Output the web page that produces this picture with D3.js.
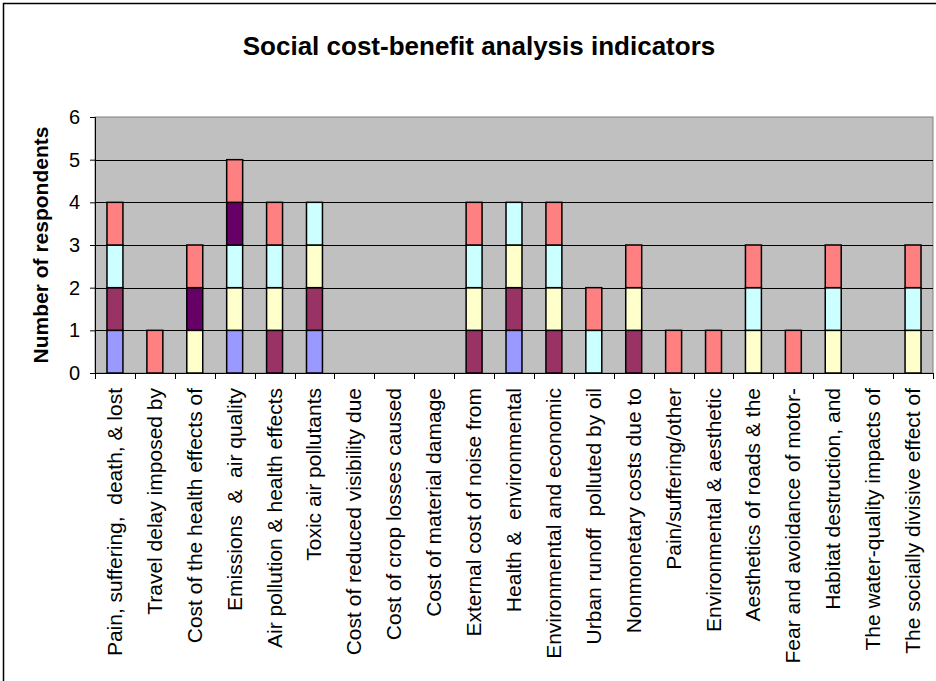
<!DOCTYPE html>
<html>
<head>
<meta charset="utf-8">
<script src="https://cdn.jsdelivr.net/npm/d3@7"></script>
<style>
  body { margin: 0; background: #fff; }
  text { font-family: Arial, "Liberation Sans", sans-serif; }
</style>
</head>
<body>
<div id="chart"></div>
<script>
// categories (x axis)
var categories = [
  "Pain, suffering,  death, & lost",
  "Travel delay imposed by",
  "Cost of the health effects of",
  "Emissions  &  air quality",
  "Air pollution & health effects",
  "Toxic air pollutants",
  "Cost of reduced visibility due",
  "Cost of crop losses caused",
  "Cost of material damage",
  "External cost of noise from",
  "Health &  environmental",
  "Environmental and economic",
  "Urban runoff  polluted by oil",
  "Nonmonetary costs due to",
  "Pain/suffering/other",
  "Environmental & aesthetic",
  "Aesthetics of roads & the",
  "Fear and avoidance of motor-",
  "Habitat destruction, and",
  "The water-quality impacts of",
  "The socially divisive effect of"
];

// six stacked series, bottom to top
var seriesNames = ["s1", "s2", "s3", "s4", "s5", "s6"];
var s1 = [1,0,0,1,0,1,0,0,0,0,1,0,0,0,0,0,0,0,0,0,0];
var s2 = [1,0,0,0,1,1,0,0,0,1,1,1,0,1,0,0,0,0,0,0,0];
var s3 = [0,0,1,1,1,1,0,0,0,1,1,1,0,1,0,0,1,0,1,0,1];
var s4 = [1,0,0,1,1,1,0,0,0,1,1,1,1,0,0,0,1,0,1,0,1];
var s5 = [0,0,1,1,0,0,0,0,0,0,0,0,0,0,0,0,0,0,0,0,0];
var s6 = [1,1,1,1,1,0,0,0,0,1,0,1,1,1,1,1,1,1,1,0,1];
var seriesColors = ["#9999FF", "#993366", "#FFFFCC", "#CCFFFF", "#660066", "#FF8080"];

var yTicks = [0, 1, 2, 3, 4, 5, 6];

var svgWidth = 936;
var svgHeight = 681;
var margin = { top: 117, right: 3, bottom: 308, left: 95 };
var width = svgWidth - margin.left - margin.right;
var height = svgHeight - margin.top - margin.bottom;

var svg = d3.select("#chart")
  .append("svg")
  .attr("width", svgWidth)
  .attr("height", svgHeight);

// outer chart frame
svg.append("rect")
  .attr("x", 3.5).attr("y", 3.5)
  .attr("width", svgWidth + 10).attr("height", svgHeight + 10)
  .attr("fill", "#fff")
  .attr("stroke", "#000")
  .attr("stroke-width", 1.5);

svg.append("text")
  .attr("x", 479).attr("y", 55)
  .attr("text-anchor", "middle")
  .attr("font-size", 26)
  .attr("font-weight", "bold")
  .text("Social cost-benefit analysis indicators");

var chartGroup = svg.append("g")
  .attr("transform", `translate(${margin.left}, ${margin.top})`);

var rows = categories.map(function(c, i) {
  var r = { cat: c };
  r.s1 = s1[i]; r.s2 = s2[i]; r.s3 = s3[i];
  r.s4 = s4[i]; r.s5 = s5[i]; r.s6 = s6[i];
  return r;
});

var stacked = d3.stack().keys(seriesNames)(rows);

var xScale = d3.scaleBand()
  .domain(categories)
  .range([0, width])
  .paddingInner(0.6)
  .paddingOuter(0.3);

var yScale = d3.scaleLinear()
  .domain([0, 6])
  .range([height, 0]);

// plot area
chartGroup.append("rect")
  .attr("width", width).attr("height", height)
  .attr("fill", "#C0C0C0")
  .attr("stroke", "#808080")
  .attr("stroke-width", 1);

// gridlines
chartGroup.append("g")
  .selectAll("line")
  .data(yTicks.slice(1, -1))
  .enter()
  .append("line")
  .attr("x1", 0).attr("x2", width)
  .attr("y1", d => Math.round(yScale(d)) + 0.5)
  .attr("y2", d => Math.round(yScale(d)) + 0.5)
  .attr("stroke", "#000");

// bars
chartGroup.selectAll(".layer")
  .data(stacked)
  .enter()
  .append("g")
  .attr("class", "layer")
  .attr("fill", (d, i) => seriesColors[i])
  .selectAll("rect")
  .data(d => d.filter(p => p[1] > p[0]))
  .enter()
  .append("rect")
  .attr("x", d => xScale(d.data.cat))
  .attr("y", d => yScale(d[1]))
  .attr("width", xScale.bandwidth())
  .attr("height", d => yScale(d[0]) - yScale(d[1]))
  .attr("stroke", "#000")
  .attr("stroke-width", 1.5);

// y axis
var leftAxis = d3.axisLeft(yScale)
  .tickValues(yTicks)
  .tickFormat(d3.format("d"))
  .tickSize(5)
  .tickPadding(10);
var yAxisG = chartGroup.append("g").call(leftAxis);
yAxisG.attr("font-size", 20).attr("font-family", "Arial, 'Liberation Sans', sans-serif");
yAxisG.select(".domain").attr("stroke", "#000");

// x axis: ticks between categories
var step = width / categories.length;
var xAxisG = chartGroup.append("g")
  .attr("transform", `translate(0, ${height})`);
xAxisG.append("line")
  .attr("x1", 0).attr("x2", width)
  .attr("y1", 0.5).attr("y2", 0.5)
  .attr("stroke", "#000");
xAxisG.selectAll(".tick")
  .data(d3.range(categories.length + 1))
  .enter()
  .append("line")
  .attr("x1", d => Math.round(d * step) + 0.5)
  .attr("x2", d => Math.round(d * step) + 0.5)
  .attr("y1", 0).attr("y2", 6)
  .attr("stroke", "#000");

xAxisG.selectAll(".xlabel")
  .data(categories)
  .enter()
  .append("text")
  .attr("class", "xlabel")
  .attr("transform", d => `translate(${xScale(d) + xScale.bandwidth() / 2 + 7}, 15) rotate(-90)`)
  .attr("text-anchor", "end")
  .attr("font-size", 21)
  .style("white-space", "pre")
  .text(d => d);

// y axis title
chartGroup.append("text")
  .attr("transform", "rotate(-90)")
  .attr("x", -height / 2)
  .attr("y", -47)
  .attr("text-anchor", "middle")
  .attr("font-size", 21)
  .attr("font-weight", "bold")
  .text("Number of respondents");
</script>
</body>
</html>
